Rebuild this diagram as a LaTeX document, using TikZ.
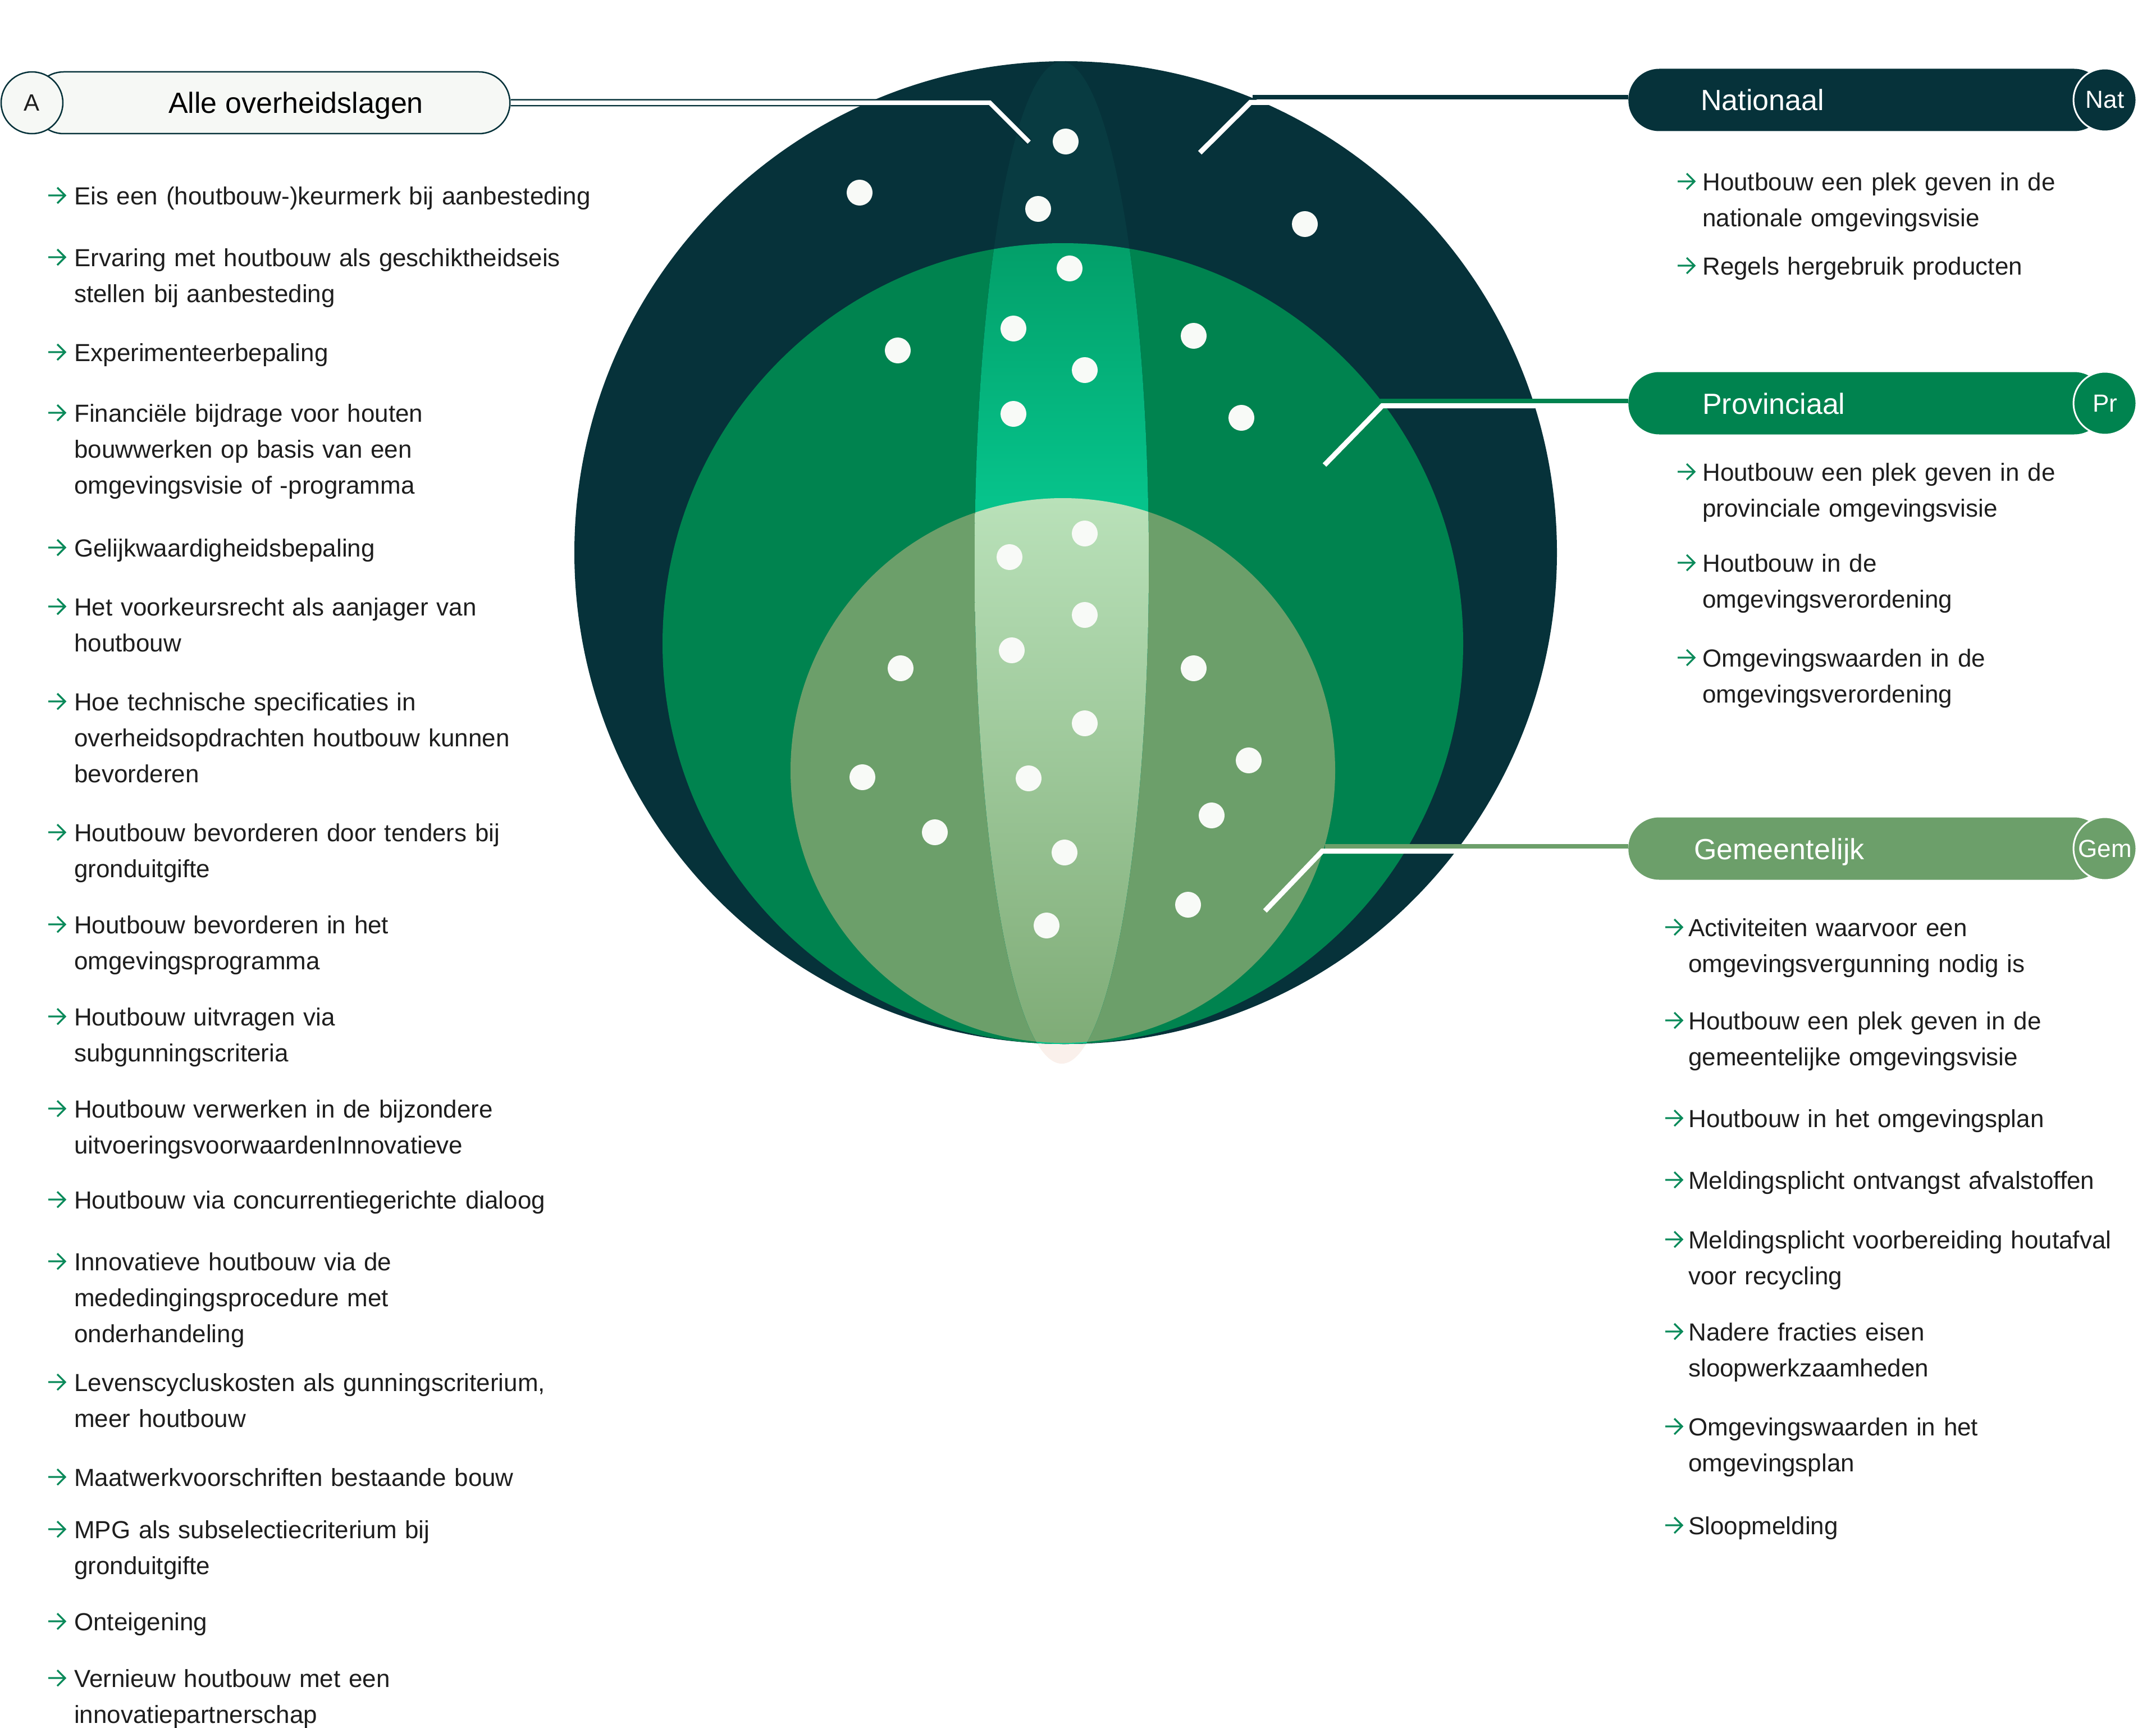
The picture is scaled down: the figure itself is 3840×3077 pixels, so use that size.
\documentclass[tikz,border=0pt]{standalone}
\usepackage{fontspec}
\setmainfont{Liberation Sans}
\definecolor{natc}{HTML}{06323A}
\definecolor{prc}{HTML}{00834F}
\definecolor{gemc}{HTML}{6C9F6A}
\definecolor{txtc}{HTML}{1E1E1E}
\definecolor{arrc}{HTML}{0A8A5A}
\definecolor{pillA}{HTML}{F6F8F5}
\definecolor{lensdark}{HTML}{083B41}
\definecolor{lensgA}{HTML}{039F69}
\definecolor{lensgB}{HTML}{06C38B}
\definecolor{lenslA}{HTML}{B9E1B9}
\definecolor{lenslB}{HTML}{7FAC77}
\definecolor{pinkc}{HTML}{FAF0EB}
\definecolor{dotc}{HTML}{F8FAF7}
\tikzset{
  txt/.style={anchor=mid west, yshift=-14pt, inner sep=0pt, font=\fontsize{44}{64}\selectfont, text=txtc, align=left, text width=1000pt},
  arr/.style={draw=arrc, line width=3.2pt, line join=miter},
  hdr/.style={anchor=base west, inner sep=0pt, font=\fontsize{52}{60}\selectfont, text=white},
  pillbody/.style={rectangle, rounded corners=55pt, minimum height=111pt, inner sep=0pt, anchor=west, minimum width=849pt},
  endcirc/.style={circle, draw=white, line width=3pt, minimum size=112pt, inner sep=0pt, text=white, font=\fontsize{44}{50}\selectfont},
  dot/.style={fill=dotc},
}
\newcommand\garrow[2]{\draw[arr] (#1,#2) -- ++(30,0) (#1+16,#2-14) -- (#1+30,#2) -- (#1+16,#2+14);}
\newcommand\itm[5]{\garrow{#2}{#4}\node[txt] (#1) at (#3,#4) {#5};}
\begin{document}
\begin{tikzpicture}[x=1pt,y=-1pt]
\useasboundingbox (0,0) rectangle (3840,3077);
\fill[white] (0,0) rectangle (3840,3077);

% lens tip (below the circles)
\fill[pinkc] (1891,1002) ellipse[x radius=155pt, y radius=892pt];
% three levels
\fill[natc] (1898,984) circle[radius=875pt];
\fill[prc] (1893,1146) circle[radius=713pt];
\fill[gemc] (1893,1372) circle[radius=485pt];
% lens overlay
\begin{scope}
  \clip (1891,1002) ellipse[x radius=155pt, y radius=892pt];
  \fill[lensdark] (1898,984) circle[radius=875pt];
  \begin{scope}
    \clip (1893,1146) circle[radius=713pt];
    \shade[top color=lensgA, bottom color=lensgB] (1700,433) rectangle (2100,890);
    \fill[lensgB] (1700,889) rectangle (2100,1860);
  \end{scope}
  \begin{scope}
    \clip (1893,1372) circle[radius=485pt];
    \shade[top color=lenslA, bottom color=lenslB] (1700,887) rectangle (2100,1860);
  \end{scope}
\end{scope}

% header pills
\node[pillbody, fill=natc] (nat) at (2900,178) {};
\node[pillbody, fill=prc] (pr) at (2900,718) {};
\node[pillbody, fill=gemc] (gem) at (2900,1511) {};

% connectors
\coordinate (abend) at (1763,183);
\coordinate (aend) at (1833,253);
\coordinate (natbendc) at (2231,173.5);
\coordinate (natbend) at (2227,182.5);
\coordinate (natend) at (2137,272);
\coordinate (prbendc) at (2458,713.5);
\coordinate (prbend) at (2462,722.5);
\coordinate (prend) at (2359,828);
\coordinate (gembendc) at (2360,1506.5);
\coordinate (gembend) at (2355,1515.5);
\coordinate (gemend) at (2253,1622);

\draw[natc, line width=8pt] ([yshift=4.5pt]nat.west) -- (natbendc);
\draw[white, line width=9pt] ([yshift=-4.5pt]nat.west) -- (natbend) -- (natend);
\draw[prc, line width=8pt] ([yshift=4.5pt]pr.west) -- (prbendc);
\draw[white, line width=9pt] ([yshift=-4.5pt]pr.west) -- (prbend) -- (prend);
\draw[gemc, line width=8pt] ([yshift=4.5pt]gem.west) -- (gembendc);
\draw[white, line width=9pt] ([yshift=-4.5pt]gem.west) -- (gembend) -- (gemend);

\node[draw=natc, line width=2.5pt, fill=pillA, rounded corners=55pt, minimum width=850pt, minimum height=110pt, inner sep=0pt, anchor=west] (all) at (57,183) {};
\draw[natc, line width=13pt] (all.east) -- (abend) -- (aend);
\draw[white, line width=8pt] (all.east) -- (abend) -- (aend);
\node[circle, draw=natc, line width=2.5pt, fill=pillA, minimum size=110pt, inner sep=0pt, font=\fontsize{42}{46}\selectfont, text=txtc] (acirc) at (57,183) {A};
\node[hdr, text=black] (alltxt) at (300,202) {Alle overheidslagen};

\node[endcirc, fill=natc] (natcirc) at (3749,178) {Nat};
\node[endcirc, fill=prc] (prcirc) at (3749,718) {Pr};
\node[endcirc, fill=gemc] (gemcirc) at (3749,1511) {Gem};
\node[hdr] (nattxt) at (3029,197) {Nationaal};
\node[hdr] (prtxt) at (3032,737) {Provinciaal};
\node[hdr] (gemtxt) at (3017,1530) {Gemeentelijk};

% dots
\foreach \x/\y in {1898/252,1531/343,1849/372,2324/399,1905/478,1599/624,1805/585,2126/598,1932/659,1805/737,2211/744,1932/950,1798/992,1932/1095,1604/1190,1802/1158,2126/1190,1932/1288,1536/1384,1832/1386,2224/1354,1665/1482,2158/1452,1896/1518,2116/1611,1864/1648}
  \fill[dot] (\x,\y) circle[radius=23pt];

% left column
\itm{l1}{86}{132}{348}{Eis een (houtbouw-)keurmerk bij aanbesteding}
\itm{l2}{86}{132}{458}{Ervaring met houtbouw als geschiktheidseis\\stellen bij aanbesteding}
\itm{l3}{86}{132}{627}{Experimenteerbepaling}
\itm{l4}{86}{132}{735}{Financiële bijdrage voor houten\\bouwwerken op basis van een\\omgevingsvisie of -programma}
\itm{l5}{86}{132}{975}{Gelijkwaardigheidsbepaling}
\itm{l6}{86}{132}{1080}{Het voorkeursrecht als aanjager van\\houtbouw}
\itm{l7}{86}{132}{1249}{Hoe technische specificaties in\\overheidsopdrachten houtbouw kunnen\\bevorderen}
\itm{l8}{86}{132}{1482}{Houtbouw bevorderen door tenders bij\\gronduitgifte}
\itm{l9}{86}{132}{1646}{Houtbouw bevorderen in het\\omgevingsprogramma}
\itm{l10}{86}{132}{1810}{Houtbouw uitvragen via\\subgunningscriteria}
\itm{l11}{86}{132}{1974}{Houtbouw verwerken in de bijzondere\\uitvoeringsvoorwaardenInnovatieve}
\itm{l12}{86}{132}{2136}{Houtbouw via concurrentiegerichte dialoog}
\itm{l13}{86}{132}{2246}{Innovatieve houtbouw via de\\mededingingsprocedure met\\onderhandeling}
\itm{l14}{86}{132}{2461}{Levenscycluskosten als gunningscriterium,\\meer houtbouw}
\itm{l15}{86}{132}{2630}{Maatwerkvoorschriften bestaande bouw}
\itm{l16}{86}{132}{2723}{MPG als subselectiecriterium bij\\gronduitgifte}
\itm{l17}{86}{132}{2887}{Onteigening}
\itm{l18}{86}{132}{2988}{Vernieuw houtbouw met een\\innovatiepartnerschap}

% right column
\itm{n1}{2988}{3032}{323}{Houtbouw een plek geven in de\\nationale omgevingsvisie}
\itm{n2}{2988}{3032}{473}{Regels hergebruik producten}
\itm{p1}{2988}{3032}{840}{Houtbouw een plek geven in de\\provinciale omgevingsvisie}
\itm{p2}{2988}{3032}{1002}{Houtbouw in de\\omgevingsverordening}
\itm{p3}{2988}{3032}{1171}{Omgevingswaarden in de\\omgevingsverordening}
\itm{g1}{2966}{3007}{1651}{Activiteiten waarvoor een\\omgevingsvergunning nodig is}
\itm{g2}{2966}{3007}{1817}{Houtbouw een plek geven in de\\gemeentelijke omgevingsvisie}
\itm{g3}{2966}{3007}{1991}{Houtbouw in het omgevingsplan}
\itm{g4}{2966}{3007}{2101}{Meldingsplicht ontvangst afvalstoffen}
\itm{g5}{2966}{3007}{2207}{Meldingsplicht voorbereiding houtafval\\voor recycling}
\itm{g6}{2966}{3007}{2371}{Nadere fracties eisen\\sloopwerkzaamheden}
\itm{g7}{2966}{3007}{2540}{Omgevingswaarden in het\\omgevingsplan}
\itm{g8}{2966}{3007}{2716}{Sloopmelding}
\end{tikzpicture}
\end{document}
